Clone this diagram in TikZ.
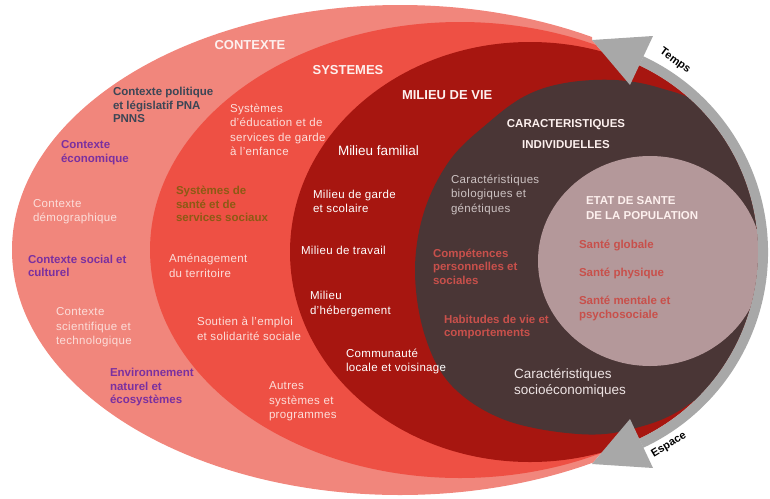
\documentclass[tikz,border=0pt]{standalone}
\usepackage{fontspec}
\setmainfont{Liberation Sans}
\usetikzlibrary{calc}
\definecolor{ctx}{HTML}{F1867C}
\definecolor{sys}{HTML}{EE5044}
\definecolor{mil}{HTML}{A71610}
\definecolor{car}{HTML}{4A3636}
\definecolor{san}{HTML}{B4989A}
\definecolor{bandc}{HTML}{A8A8A8}
\definecolor{lightt}{HTML}{FCDEDA}
\definecolor{headt}{HTML}{FDF0EE}
\definecolor{purp}{HTML}{7A30A0}
\definecolor{slate}{HTML}{3C4655}
\definecolor{olive}{HTML}{8C5A14}
\definecolor{biot}{HTML}{CDC3C3}
\definecolor{redt}{HTML}{C8504B}
\definecolor{sociot}{HTML}{EEE4E4}
\tikzset{
  base/.style={inner sep=0pt, outer sep=0pt, align=left, anchor=west},
  reg/.style={base, font=\fontsize{11.5}{14.5}\selectfont\addfontfeatures{LetterSpace=3}},
  bld/.style={base, font=\bfseries\fontsize{11.5}{13.5}\selectfont},
  hd/.style={inner sep=0pt, outer sep=0pt, text=headt, align=center, font=\bfseries\fontsize{13}{15}\selectfont},
  hds/.style={inner sep=0pt, outer sep=0pt, text=headt, font=\bfseries\fontsize{11.5}{15}\selectfont},
  arrlbl/.style={inner sep=0pt, text=black, font=\bfseries\fontsize{11}{13}\selectfont},
}
\begin{document}
\begin{tikzpicture}[x=1pt, y=-1pt]
\useasboundingbox (0,0) rectangle (770,498);
\coordinate (c) at (552,252);
\begin{scope}
  \clip (0,0) -- (592,0) -- (592,40) -- ($(c)+(-75.9:206)$)
        arc[start angle=-75.9, end angle=75.9, radius=206]
        -- (592,464) -- (592,498) -- (0,498) -- cycle;
  \fill[ctx] (400,250) ellipse[x radius=388, y radius=245];
  \fill[sys] (460,250) ellipse[x radius=310, y radius=228];
  \fill[mil] (530,252) ellipse[x radius=240, y radius=210];
  \fill[car] plot[smooth cycle, tension=0.6] coordinates {
     (615,80) (660,88) (705,108) (760,170) (778,256) (760,340) (688,405)
     (632,429) (578,434) (505,420) (452,386) (425,336) (415,272) (424,212)
     (450,160) (488,123) (525,96) (565,83)};
  \fill[san] (650,261) ellipse[x radius=112, y radius=105];
\end{scope}
% band with arrowheads
\draw[bandc, line width=10] ($(c)+(-65:211)$) arc[start angle=-65, end angle=65, radius=211];
\fill[bandc] (592,40) -- (653,36) -- (630,85) -- cycle;
\fill[bandc] (592,464) -- (653,468) -- (630,419) -- cycle;
\node[arrlbl, rotate=-36] (temps) at (675,61) {Temps};
\node[arrlbl, rotate=31] (espace) at (669,445) {Espace};
% headings
\node[hd] (hctx) at (250,45) {CONTEXTE};
\node[hd] (hsys) at (348,70) {SYSTEMES};
\node[hd, anchor=west] (hmil) at (402,95) {MILIEU DE VIE};
\node[hds] (hcar1) at (566,125) {CARACTERISTIQUES};
\node[hds] (hcar2) at (566,145) {INDIVIDUELLES};
\node[bld, text=headt, font=\bfseries\fontsize{11.5}{15}\selectfont] (hsan) at (586,208.5) {ETAT DE SANTE\\DE LA POPULATION};
% contexte
\node[bld, text=slate] (pol) at (113,105) {Contexte politique\\et législatif PNA\\PNNS};
\node[bld, text=purp] (eco) at (61,152.5) {Contexte\\économique};
\node[reg, text=lightt] (dem) at (33,211.5) {Contexte\\démographique};
\node[bld, text=purp] (soc) at (28,266) {Contexte social et\\culturel};
\node[reg, text=lightt] (sci) at (56,327.5) {Contexte\\scientifique et\\technologique};
\node[bld, text=purp] (env) at (110,387.5) {Environnement\\naturel et\\écosystèmes};
% systemes
\node[reg, text=lightt] (edu) at (230,130) {Systèmes\\d’éducation et de\\services de garde\\à l’enfance};
\node[bld, text=olive] (sante) at (176,204) {Systèmes de\\santé et de\\services sociaux};
\node[reg, text=lightt] (amen) at (169,266) {Aménagement\\du territoire};
\node[reg, text=lightt] (sout) at (197,329) {Soutien à l’emploi\\et solidarité sociale};
\node[reg, text=lightt] (autr) at (269,401.5) {Autres\\systèmes et\\programmes};
% milieu de vie
\node[reg, text=white, font=\fontsize{13.5}{16}\selectfont] (fam) at (338,151) {Milieu familial};
\node[reg, text=white] (garde) at (313,201.5) {Milieu de garde\\et scolaire};
\node[reg, text=white] (trav) at (301,250) {Milieu de travail};
\node[reg, text=white] (heb) at (310,304) {Milieu\\d’hébergement};
\node[reg, text=white] (comm) at (346,361.5) {Communauté\\locale et voisinage};
% caracteristiques
\node[reg, text=biot] (bio) at (451,194.5) {Caractéristiques\\biologiques et\\génétiques};
\node[bld, text=redt] (comp) at (433,266.5) {Compétences\\personnelles et\\sociales};
\node[bld, text=redt] (hab) at (444,327) {Habitudes de vie et\\comportements};
\node[reg, text=sociot, font=\fontsize{13.5}{16}\selectfont] (seco) at (514,383) {Caractéristiques\\socioéconomiques};
% etat de sante
\node[bld, text=redt] (glob) at (579,245) {Santé globale};
\node[bld, text=redt] (phys) at (579,273) {Santé physique};
\node[bld, text=redt] (ment) at (579,308.5) {Santé mentale et\\psychosociale};
\end{tikzpicture}
\end{document}
